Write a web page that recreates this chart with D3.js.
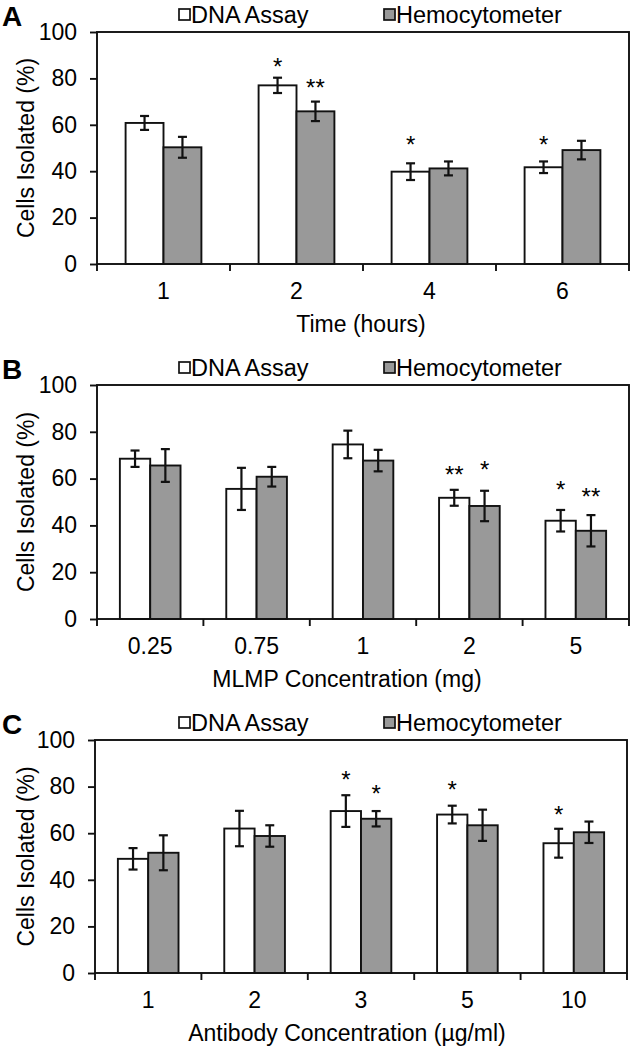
<!DOCTYPE html>
<html><head><meta charset="utf-8">
<script src="https://cdn.jsdelivr.net/npm/d3@7"></script>
<style>
body{margin:0;background:#fff}
text{font-family:"Liberation Sans",Arial,Helvetica,sans-serif;fill:#000}
</style>
</head><body>
<svg id="chart" width="634" height="1050"></svg>
<script>
// ---------- data ----------
const seriesNames = ["DNA Assay", "Hemocytometer"];
const yTicks = [0, 20, 40, 60, 80, 100];

const catsA = ["1", "2", "4", "6"];
const dnaA = [60.8, 77, 39.8, 41.7];
const dnaErrA = [3, 3.3, 3.6, 2.5];
const hemoA = [50.3, 65.8, 41.2, 49.1];
const hemoErrA = [4.5, 4.2, 3, 4];
const starsA = [
  {cat: "2", s: 0, t: "*", v: 87},
  {cat: "2", s: 1, t: "**", v: 78},
  {cat: "4", s: 0, t: "*", v: 53.4},
  {cat: "6", s: 0, t: "*", v: 53.4}
];

const catsB = ["0.25", "0.75", "1", "2", "5"];
const dnaB = [68.5, 55.6, 74.6, 51.8, 42];
const dnaErrB = [3.5, 9, 5.9, 3.4, 4.6];
const hemoB = [65.6, 60.8, 67.7, 48.3, 37.7];
const hemoErrB = [7, 4.2, 4.6, 6.5, 6.7];
const starsB = [
  {cat: "2", s: 0, t: "**", v: 63.7},
  {cat: "2", s: 1, t: "*", v: 65.8},
  {cat: "5", s: 0, t: "*", v: 57.3},
  {cat: "5", s: 1, t: "**", v: 54.4}
];

const catsC = ["1", "2", "3", "5", "10"];
const dnaC = [49, 62, 69.5, 68, 55.7];
const dnaErrC = [4.6, 7.6, 6.8, 3.8, 6.2];
const hemoC = [51.6, 58.8, 66.2, 63.4, 60.4];
const hemoErrC = [7.5, 4.6, 3.3, 6.7, 4.6];
const starsC = [
  {cat: "3", s: 0, t: "*", v: 85},
  {cat: "3", s: 1, t: "*", v: 79},
  {cat: "5", s: 0, t: "*", v: 80.7},
  {cat: "10", s: 0, t: "*", v: 70}
];

const panelLabels = ["A", "B", "C"];
const xTitles = ["Time (hours)", "MLMP Concentration (mg)", "Antibody Concentration (\u00B5g/ml)"];
const yTitle = "Cells Isolated (%)";

// ---------- drawing ----------
const svg = d3.select("#chart");
svg.append("rect").attr("width", 634).attr("height", 1050).attr("fill", "#fff");

const INK = "#111";
const GRAY = "#999999";
const fills = ["#ffffff", GRAY];
const FONT = '"Liberation Sans", Arial, sans-serif';

function drawPanel(p) {
  const L = p.layout;
  const g = svg.append("g");
  const x = d3.scaleBand().domain(p.cats).range([L.left, L.left + L.width]).paddingInner(0).paddingOuter(0);
  const y = d3.scaleLinear().domain([0, 100]).range([L.top + L.height, L.top]);
  const bw = x.bandwidth() * 0.285;

  const rows = p.cats.map((c, i) => ({
    cat: c,
    vals: [{s: 0, v: p.dna[i], e: p.dnaErr[i]}, {s: 1, v: p.hemo[i], e: p.hemoErr[i]}]
  }));
  const barX = (c, s) => x(c) + x.bandwidth() / 2 + (s === 0 ? -bw : 0);

  // bars
  const grp = g.selectAll("g.cat").data(rows).join("g").attr("class", "cat");
  grp.selectAll("rect").data(d => d.vals.map(v => Object.assign({cat: d.cat}, v))).join("rect")
    .attr("x", d => barX(d.cat, d.s))
    .attr("y", d => y(d.v))
    .attr("width", bw)
    .attr("height", d => y(0) - y(d.v))
    .attr("fill", d => fills[d.s])
    .attr("stroke", INK).attr("stroke-width", 1.9);

  // error bars
  const eb = grp.selectAll("g.err").data(d => d.vals.map(v => Object.assign({cat: d.cat}, v))).join("g").attr("class", "err");
  const cx = d => barX(d.cat, d.s) + bw / 2;
  eb.append("line").attr("x1", cx).attr("x2", cx).attr("y1", d => y(d.v + d.e)).attr("y2", d => y(d.v - d.e))
    .attr("stroke", INK).attr("stroke-width", 2.2);
  eb.append("line").attr("x1", d => cx(d) - 4.5).attr("x2", d => cx(d) + 4.5).attr("y1", d => y(d.v + d.e)).attr("y2", d => y(d.v + d.e))
    .attr("stroke", INK).attr("stroke-width", 2.2);
  eb.append("line").attr("x1", d => cx(d) - 4.5).attr("x2", d => cx(d) + 4.5).attr("y1", d => y(d.v - d.e)).attr("y2", d => y(d.v - d.e))
    .attr("stroke", INK).attr("stroke-width", 2.2);

  // frame
  g.append("rect").attr("x", L.left).attr("y", L.top).attr("width", L.width).attr("height", L.height)
    .attr("fill", "none").attr("stroke", INK).attr("stroke-width", 1.9);

  // y axis
  const ya = g.append("g").attr("transform", `translate(${L.left},0)`)
    .call(d3.axisLeft(y).tickValues(yTicks).tickSize(7).tickPadding(13).tickFormat(d3.format("d")));
  ya.select(".domain").remove();
  ya.selectAll(".tick line").attr("stroke", INK).attr("stroke-width", 1.9);
  ya.selectAll(".tick text").attr("font-size", 23).attr("fill", "#000").style("font-family", FONT);

  // x axis (labels) + boundary ticks
  const xa = g.append("g").attr("transform", `translate(0,${L.top + L.height})`)
    .call(d3.axisBottom(x).tickSize(0).tickPadding(19));
  xa.select(".domain").remove();
  xa.selectAll(".tick text").attr("font-size", 23).attr("fill", "#000").style("font-family", FONT);
  const bounds = p.cats.map(c => x(c)).concat([L.left + L.width]);
  g.selectAll("line.bt").data(bounds).join("line").attr("class", "bt")
    .attr("x1", d => d).attr("x2", d => d)
    .attr("y1", L.top + L.height).attr("y2", L.top + L.height + 7)
    .attr("stroke", INK).attr("stroke-width", 1.9);

  // stars
  g.selectAll("text.star").data(p.stars).join("text").attr("class", "star")
    .attr("x", d => barX(d.cat, d.s) + bw / 2)
    .attr("y", d => y(d.v) + 13)
    .attr("text-anchor", "middle").attr("font-size", 24)
    .text(d => d.t);

  // panel label
  g.append("text").attr("x", 2).attr("y", L.top - 6).attr("font-size", 28).attr("font-weight", "bold")
    .text(p.label);

  // legend
  const legX = [179, 384];
  seriesNames.forEach((n, i) => {
    g.append("rect").attr("x", legX[i]).attr("y", L.top - 23).attr("width", 11).attr("height", 11)
      .attr("fill", fills[i]).attr("stroke", INK).attr("stroke-width", 1.7);
    g.append("text").attr("x", legX[i] + 12).attr("y", L.top - 9).attr("font-size", 23.5).text(n);
  });

  // axis titles
  g.append("text").attr("x", L.titleX).attr("y", L.top + L.height + 68)
    .attr("text-anchor", "middle").attr("font-size", 23).text(p.xTitle);
  g.append("text").attr("transform", `translate(34,${L.top + L.height / 2}) rotate(-90)`)
    .attr("text-anchor", "middle").attr("font-size", 23).text(yTitle);
}

const layouts = [
  {left: 97, top: 32, width: 532, height: 232, titleX: 361},
  {left: 97, top: 385, width: 532, height: 234, titleX: 347},
  {left: 95, top: 740, width: 532, height: 233, titleX: 347}
];

drawPanel({cats: catsA, dna: dnaA, dnaErr: dnaErrA, hemo: hemoA, hemoErr: hemoErrA, stars: starsA,
  label: panelLabels[0], xTitle: xTitles[0], layout: layouts[0]});
drawPanel({cats: catsB, dna: dnaB, dnaErr: dnaErrB, hemo: hemoB, hemoErr: hemoErrB, stars: starsB,
  label: panelLabels[1], xTitle: xTitles[1], layout: layouts[1]});
drawPanel({cats: catsC, dna: dnaC, dnaErr: dnaErrC, hemo: hemoC, hemoErr: hemoErrC, stars: starsC,
  label: panelLabels[2], xTitle: xTitles[2], layout: layouts[2]});
</script>
</body></html>
